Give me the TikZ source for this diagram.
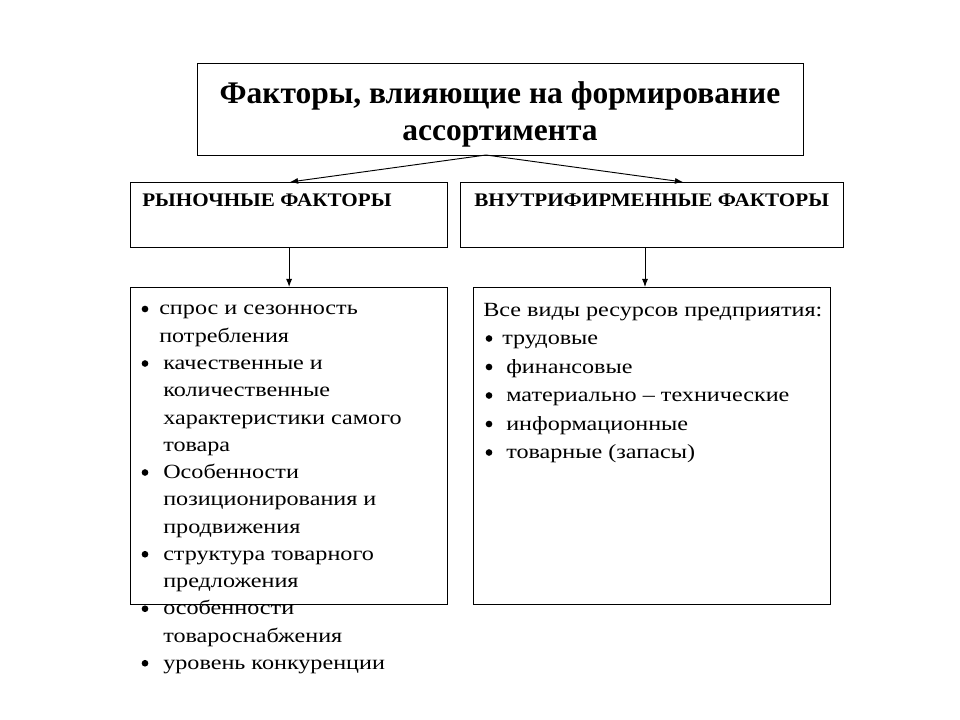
\documentclass[tikz,border=0pt]{standalone}
\usepackage{fontspec}
\setmainfont{Liberation Serif}[FakeStretch=1.2]
\newfontfamily\ttlfont{Liberation Serif}
\newfontfamily\hdrfont{Liberation Serif}[FakeStretch=1.1]
\usepackage{tikz}
\usetikzlibrary{arrows.meta}

\begin{document}
\begin{tikzpicture}[>={Latex[length=6pt,width=4.5pt]},x=0.75pt,y=-0.75pt,
    box/.style={draw,line width=0.9pt,inner sep=0,anchor=north west},
    txt/.style={inner sep=0,anchor=base west,font=\fontsize{15.1pt}{18pt}\selectfont},
    dot/.style={circle,fill,inner sep=0,minimum size=5pt},
    hdr/.style={inner sep=0,anchor=base west,font=\hdrfont\fontsize{14.4pt}{17pt}\selectfont\bfseries},
    ttl/.style={inner sep=0,anchor=base,font=\ttlfont\fontsize{23.6pt}{28pt}\selectfont\bfseries}]
		  \useasboundingbox (0,0) rectangle (960,720);
		  % boxes
		  \node[box,minimum width=454.5pt,minimum height=69pt] (top) at (197,63) {};
		  \node[box,minimum width=237.75pt,minimum height=48.75pt] (lft) at (130,182) {};
		  \node[box,minimum width=287.25pt,minimum height=48.75pt] (rgt) at (460,182) {};
		  \node[box,minimum width=237.75pt,minimum height=237.75pt] (lowl) at (130,287) {};
		  \node[box,minimum width=267.75pt,minimum height=237.75pt] (lowr) at (473,287) {};
		  % title
		  \node[ttl] (t1) at (500,104) {Факторы, влияющие на формирование};
		  \node[ttl] (t2) at (500,141) {ассортимента};
		  \node[hdr] (h1) at (142,207) {РЫНОЧНЫЕ ФАКТОРЫ};
		  \node[hdr] (h2) at (474,207) {ВНУТРИФИРМЕННЫЕ ФАКТОРЫ};
		  % arrows
		  \coordinate (apex) at (486,155);
		  \coordinate (tipl) at (290,182);
		  \coordinate (tipr) at (683,182);
		  \coordinate (dr) at (645,250);
		  \draw[->,line width=0.7pt] (apex) -- (tipl);
		  \draw[->,line width=0.7pt] (apex) -- (tipr);
		  \draw[->,line width=0.7pt] (lft.south) -- (lowl.north);
		  \draw[->,line width=0.7pt] (rgt.south -| dr) -- (lowr.north -| dr);
		  % left list
		  \node[dot] (b1) at (145,309) {};
		  \node[txt] (l1) at (159,315) {спрос и сезонность};
		  \node[txt] (l2) at (159,342.25) {потребления};
		  \node[dot] (b2) at (145,363.5) {};
		  \node[txt] (l3) at (163,369.5) {качественные и};
		  \node[txt] (l4) at (163,396.75) {количественные};
		  \node[txt] (l5) at (163,424) {характеристики самого};
		  \node[txt] (l6) at (163,451.25) {товара};
		  \node[dot] (b3) at (145,472.5) {};
		  \node[txt] (l7) at (163,478.5) {Особенности};
		  \node[txt] (l8) at (163,505.75) {позиционирования и};
		  \node[txt] (l9) at (163,533) {продвижения};
		  \node[dot] (b4) at (145,554.25) {};
		  \node[txt] (l10) at (163,560.25) {структура товарного};
		  \node[txt] (l11) at (163,587.5) {предложения};
		  \node[dot] (b5) at (145,608.75) {};
		  \node[txt] (l12) at (163,614.75) {особенности};
		  \node[txt] (l13) at (163,642) {товароснабжения};
		  \node[dot] (b6) at (145,663.25) {};
		  \node[txt] (l14) at (163,669.25) {уровень конкуренции};
		  % right list
		  \node[txt] (r0) at (483,316) {Все виды ресурсов предприятия:};
		  \node[dot] (c1) at (489,338.5) {};
		  \node[txt] (r1) at (502,344.5) {трудовые};
		  \node[dot] (c2) at (489,367) {};
		  \node[txt] (r2) at (506,373) {финансовые};
		  \node[dot] (c3) at (489,395.5) {};
		  \node[txt] (r3) at (506,401.5) {материально – технические};
		  \node[dot] (c4) at (489,424) {};
		  \node[txt] (r4) at (506,430) {информационные};
		  \node[dot] (c5) at (489,452.5) {};
		  \node[txt] (r5) at (506,458.5) {товарные (запасы)};
		\end{tikzpicture}
\end{document}
